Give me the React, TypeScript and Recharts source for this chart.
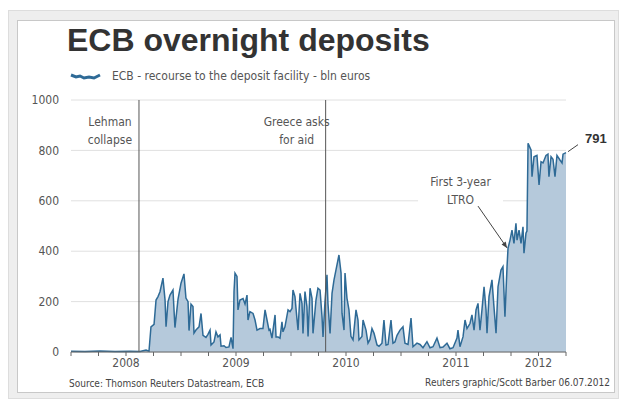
import React from 'react'
import {
  AreaChart,
  Area,
  XAxis,
  YAxis,
  CartesianGrid,
  ReferenceLine,
  ReferenceArea,
  ReferenceDot,
} from 'recharts'

// decimal years
const dates = [
  2008.000, 2008.127, 2008.264, 2008.400, 2008.536, 2008.627, 2008.682, 2008.709, 2008.727, 2008.755, 2008.773, 2008.791, 2008.809, 2008.836, 2008.855, 2008.864, 2008.882, 2008.900, 2008.927, 2008.945, 2008.973,
  2009.000, 2009.027, 2009.045, 2009.064, 2009.073, 2009.091, 2009.109, 2009.118, 2009.136, 2009.164, 2009.182, 2009.200, 2009.227, 2009.245, 2009.264, 2009.273, 2009.300, 2009.318, 2009.336, 2009.355, 2009.364, 2009.391, 2009.409, 2009.436, 2009.455, 2009.473, 2009.482, 2009.491, 2009.509, 2009.518, 2009.536, 2009.564, 2009.582, 2009.600, 2009.609, 2009.627, 2009.655, 2009.673, 2009.691, 2009.718, 2009.745, 2009.764, 2009.782, 2009.800, 2009.809, 2009.827, 2009.855, 2009.864, 2009.882, 2009.900, 2009.918, 2009.927, 2009.945, 2009.973, 2009.991,
  2010.009, 2010.018, 2010.036, 2010.055, 2010.064, 2010.082, 2010.100, 2010.109, 2010.127, 2010.145, 2010.155, 2010.173, 2010.191, 2010.200, 2010.227, 2010.245, 2010.264, 2010.282, 2010.291, 2010.309, 2010.327, 2010.336, 2010.355, 2010.373, 2010.391, 2010.409, 2010.427, 2010.436, 2010.455, 2010.464, 2010.482, 2010.491, 2010.509, 2010.527, 2010.545, 2010.564, 2010.591, 2010.609, 2010.618, 2010.645, 2010.655, 2010.682, 2010.700, 2010.718, 2010.736, 2010.755, 2010.782, 2010.800, 2010.827, 2010.845, 2010.864, 2010.882, 2010.909, 2010.927, 2010.945, 2010.964, 2010.991,
  2011.018, 2011.036, 2011.064, 2011.091, 2011.109, 2011.145, 2011.173, 2011.200, 2011.236, 2011.264, 2011.291, 2011.327, 2011.355, 2011.382, 2011.418, 2011.445, 2011.473, 2011.509, 2011.518, 2011.536, 2011.564, 2011.582, 2011.600, 2011.627, 2011.645, 2011.664, 2011.682, 2011.700, 2011.718, 2011.736, 2011.755, 2011.773, 2011.782, 2011.800, 2011.827, 2011.845, 2011.864, 2011.882, 2011.909, 2011.927, 2011.945, 2011.964, 2011.973, 2011.991,
  2012.009, 2012.027, 2012.045, 2012.055, 2012.073, 2012.091, 2012.109, 2012.118, 2012.136, 2012.145, 2012.155, 2012.182, 2012.191, 2012.209, 2012.236, 2012.255, 2012.273, 2012.291, 2012.318, 2012.336, 2012.345, 2012.364, 2012.382, 2012.400, 2012.418, 2012.445, 2012.464, 2012.473, 2012.500,
]

// recourse to the deposit facility, bln euros
const deposits = [
  3, 2, 4, 2, 3, 2, 8, 3, 100, 110, 206, 220, 239, 293, 206, 100, 200, 226, 246, 97, 210,
  273, 310, 214, 200, 85, 190, 180, 75, 87, 100, 153, 66, 58, 70, 87, 28, 40, 80, 60, 68, 23, 25, 18, 20, 58, 13, 240, 313, 300, 167, 206, 212, 190, 226, 127, 160, 153, 127, 87, 93, 93, 167, 127, 87, 90, 55, 147, 60, 60, 55, 120, 80, 100, 167, 160,
  173, 246, 220, 127, 87, 233, 193, 74, 240, 180, 62, 253, 213, 74, 206, 253, 246, 140, 60, 200, 306, 193, 74, 233, 286, 326, 365, 385, 313, 153, 87, 313, 213, 167, 62, 48, 167, 127, 48, 62, 127, 87, 35, 50, 93, 74, 28, 23, 35, 127, 28, 30, 127, 35, 40, 66, 87,
  100, 35, 30, 135, 21, 35, 30, 17, 41, 17, 21, 55, 17, 20, 35, 13, 17, 55, 87, 21, 61, 127, 93, 113, 147, 87, 167, 193, 87, 167, 259, 167, 75, 220, 286, 180, 75, 259, 325, 339, 140, 339, 412, 444,
  484, 431, 511, 444, 484, 431, 497, 392, 471, 480, 828, 802, 696, 775, 780, 663, 755, 750, 780, 785, 696, 775, 765, 696, 780, 762, 750, 785, 791,
]

const xTicks = [
  2008, 2008.25, 2008.5, 2008.75, 2009, 2009.25, 2009.5, 2009.75, 2010, 2010.25, 2010.5, 2010.75,
  2011, 2011.25, 2011.5, 2011.75, 2012, 2012.25, 2012.5,
]
const yearLabels: Record<string, string> = {
  '2008.5': '2008',
  '2009.5': '2009',
  '2010.5': '2010',
  '2011.5': '2011',
  '2012.25': '2012',
}
const yTicks = [0, 200, 400, 600, 800, 1000]

const data = dates.map((t, i) => ({ t, v: deposits[i] }))

const narrow = "'Liberation Sans Narrow', 'DejaVu Sans Condensed', 'Liberation Sans', sans-serif"

const EventLabel = (props: any) => {
  const { viewBox, lines } = props
  const x = viewBox.x - 29
  return (
    <text x={x} y={viewBox.y + 26} textAnchor="middle" fontSize={12} fill="#555" fontFamily={narrow}>
      {lines.map((l: string, i: number) => (
        <tspan key={i} x={x} dy={i === 0 ? 0 : 18}>
          {l}
        </tspan>
      ))}
    </text>
  )
}

const BoxLabel = (props: any) => {
  const { viewBox } = props
  const x = viewBox.x + viewBox.width / 2
  return (
    <text x={x} y={viewBox.y + 15} textAnchor="middle" fontSize={12} fill="#555" fontFamily={narrow}>
      <tspan x={x} dy={0}>First 3-year</tspan>
      <tspan x={x} dy={18}>LTRO</tspan>
    </text>
  )
}

const ArrowHead = (props: any) => {
  const { cx, cy } = props
  return <polygon points={`${cx},${cy} ${cx - 5.5},${cy - 3.5} ${cx - 1.3},${cy - 6.3}`} fill="#444" />
}

const EndLabel = (props: any) => {
  const { cx, cy } = props
  return (
    <g>
      <line x1={cx + 2} y1={cy - 1} x2={cx + 12} y2={cy - 8} stroke="#444" />
      <text x={cx + 19} y={cy - 10} fontSize={13} fontWeight="bold" fill="#333" fontFamily="'Liberation Sans', Arial, sans-serif">
        791
      </text>
    </g>
  )
}

export default function App() {
  return (
    <div style={{ position: 'absolute', left: 0, top: 0, width: 621, height: 401, background: '#fff' }}>
      {/* frame */}
      <div style={{ position: 'absolute', left: 8, top: 10, width: 611, height: 389, background: '#eeeeee', border: '1px solid #dddddd', boxSizing: 'border-box' }} />
      <div style={{ position: 'absolute', left: 17, top: 20, width: 598, height: 373, background: '#fff', border: '1px solid #c8c8c8', boxSizing: 'border-box' }} />

      <div style={{ position: 'absolute', left: 67, top: 22, fontFamily: "'Liberation Sans', Arial, sans-serif", fontWeight: 'bold', fontSize: 32, color: '#333', whiteSpace: 'nowrap' }}>
        ECB overnight deposits
      </div>

      <div style={{ position: 'absolute', left: 70, top: 69, display: 'flex', alignItems: 'center', fontFamily: narrow, fontSize: 12, color: '#555', whiteSpace: 'nowrap' }}>
        <svg width={32} height={10} style={{ marginRight: 10 }}>
          <path d="M1,4 L6,6 L10,5 L14,7 L19,6 L24,7 L30,4" stroke="#2e6a96" strokeWidth={3} fill="none" />
        </svg>
        ECB - recourse to the deposit facility - bln euros
      </div>

      <div style={{ position: 'absolute', left: 69, top: 378, fontFamily: narrow, fontSize: 10, color: '#444', whiteSpace: 'nowrap' }}>
        Source: Thomson Reuters Datastream, ECB
      </div>
      <div style={{ position: 'absolute', right: 11, top: 377, fontFamily: narrow, fontSize: 10, color: '#444', whiteSpace: 'nowrap' }}>
        Reuters graphic/Scott Barber 06.07.2012
      </div>

      <div style={{ position: 'absolute', left: 0, top: 0 }}>
        <AreaChart width={621} height={401} data={data} margin={{ top: 100, right: 55, bottom: 19, left: 21 }}>
          <CartesianGrid vertical={false} stroke="#e0e0e0" />
          <XAxis
            dataKey="t"
            type="number"
            domain={[2008, 2012.5]}
            ticks={xTicks}
            interval={0}
            tickFormatter={(v: number) => yearLabels[String(v)] ?? ''}
            axisLine={{ stroke: '#666' }}
            tickLine={{ stroke: '#666' }}
            tickSize={4}
            height={30}
            tick={{ fontSize: 12, fill: '#555', fontFamily: narrow }}
          />
          <YAxis
            domain={[0, 1000]}
            ticks={yTicks}
            axisLine={false}
            tickLine={false}
            width={50}
            tickMargin={6}
            tick={{ fontSize: 12, fill: '#555', fontFamily: narrow }}
          />
          <Area
            type="linear"
            dataKey="v"
            stroke="#2e6a96"
            strokeWidth={1.5}
            fill="#b5c9db"
            fillOpacity={1}
            dot={false}
            activeDot={false}
            isAnimationActive={false}
          />
          <ReferenceLine x={2008.618} stroke="#555" label={<EventLabel lines={['Lehman', 'collapse']} />} />
          <ReferenceLine x={2010.315} stroke="#555" label={<EventLabel lines={['Greece asks', 'for aid']} />} />
          <ReferenceArea x1={2011.155} x2={2011.927} y1={580} y2={720} fill="#fff" fillOpacity={1} stroke="none" label={<BoxLabel />} />
          <ReferenceLine segment={[{ x: 2011.7, y: 579 }, { x: 2011.964, y: 413 }]} stroke="#444" />
          <ReferenceDot x={2011.964} y={413} shape={<ArrowHead />} />
          <ReferenceDot x={2012.5} y={791} shape={<EndLabel />} />
        </AreaChart>
      </div>
    </div>
  )
}
